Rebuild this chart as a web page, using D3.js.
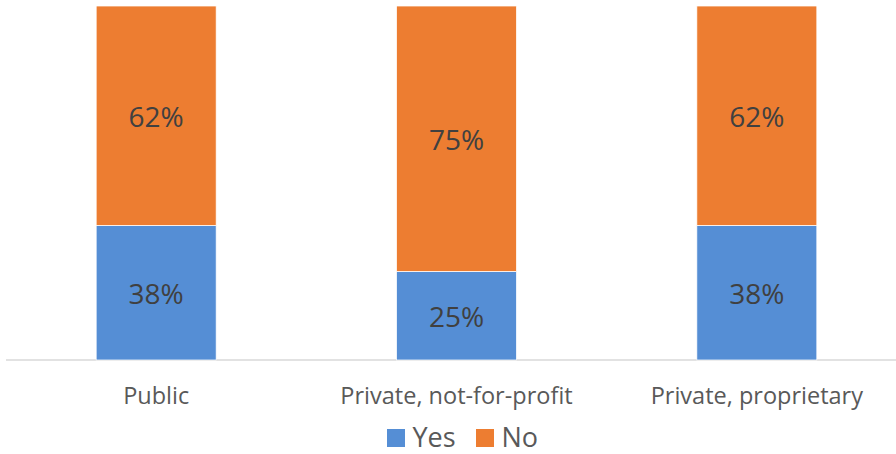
<!DOCTYPE html>
<html><head><meta charset="utf-8">
<script src="https://cdn.jsdelivr.net/npm/d3@7"></script>
<style>body{margin:0;background:#fff}</style>
</head><body>
<svg id="c" width="896" height="454"></svg>
<script>
const categories = ["Public", "Private, not-for-profit", "Private, proprietary"];
const yesValues = [38, 25, 38];
const noValues = [62, 75, 62];
const seriesNames = ["Yes", "No"];
const colors = ["#558ED5", "#ED7D31"];

const svg = d3.select("#c");
const font = "'Open Sans', 'Noto Sans', sans-serif";
const x = d3.scaleBand().domain(categories).range([6, 907]).paddingInner(0).paddingOuter(0);
const y = d3.scaleLinear().domain([0, 100]).range([360, 6]);
const barW = 120;

const rows = categories.map((c, i) => ({cat: c, Yes: yesValues[i], No: noValues[i]}));
const stack = d3.stack().keys(seriesNames)(rows);

svg.append("line").attr("x1", 6).attr("x2", 896).attr("y1", 360).attr("y2", 360)
  .attr("stroke", "#d9d9d9").attr("stroke-width", 1.5);

stack.forEach((s, si) => {
  const g = svg.append("g");
  g.selectAll("rect").data(s).join("rect")
    .attr("x", d => x(d.data.cat) + x.bandwidth()/2 - barW/2)
    .attr("width", barW)
    .attr("y", d => y(d[1]))
    .attr("height", d => y(d[0]) - y(d[1]))
    .attr("fill", colors[si])
    .attr("stroke", "#fff").attr("stroke-width", 0.75);
  g.selectAll("text").data(s).join("text")
    .attr("x", d => x(d.data.cat) + x.bandwidth()/2)
    .attr("y", d => (y(d[0]) + y(d[1]))/2 + 1.5)
    .attr("dy", "0.36em")
    .attr("text-anchor", "middle")
    .attr("font-family", font).attr("font-size", 28)
    .attr("fill", "#404040")
    .text(d => (d[1] - d[0]) + "%");
});

svg.append("g").selectAll("text").data(categories).join("text")
  .attr("x", d => x(d) + x.bandwidth()/2)
  .attr("y", 404)
  .attr("text-anchor", "middle")
  .attr("font-family", font).attr("font-size", 23.5)
  .attr("fill", "#595959")
  .text(d => d);

const legendX = [387, 476];
const lg = svg.append("g");
seriesNames.forEach((n, i) => {
  lg.append("rect").attr("x", legendX[i]).attr("y", 429).attr("width", 18).attr("height", 18).attr("fill", colors[i]);
  lg.append("text").attr("x", legendX[i] + 25.5).attr("y", 446.7)
    .attr("font-family", font).attr("font-size", 27).attr("fill", "#595959").text(n);
});
</script>
</body></html>
